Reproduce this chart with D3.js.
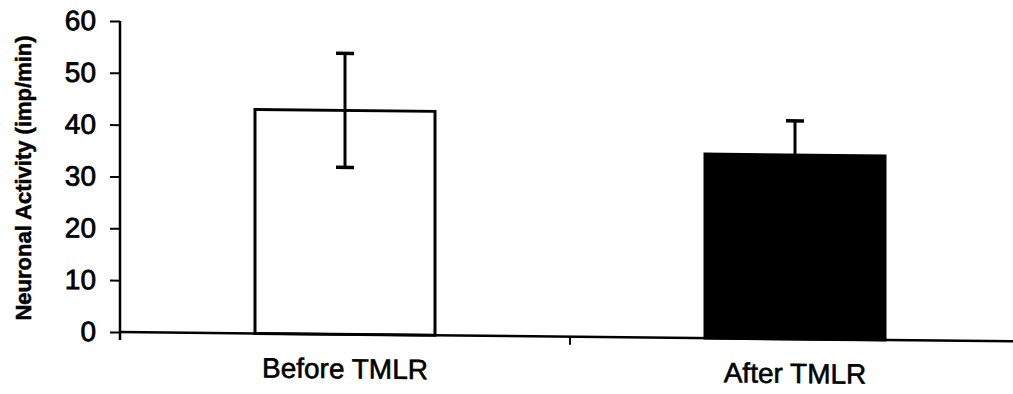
<!DOCTYPE html>
<html>
<head>
<meta charset="utf-8">
<script src="https://cdn.jsdelivr.net/npm/d3@7"></script>
<style>
  body { margin: 0; background: #fff; }
  text { font-family: "Liberation Sans", Arial, Helvetica, sans-serif; fill: #000; }
</style>
</head>
<body>
<script>
// Neuronal activity before and after TMLR (mean ± error)
const categories = ["Before TMLR", "After TMLR"];
const means = [43.2, 35.5];
const errors = [11.0, 6.6];
const fills = ["#fff", "#000"];
const yTicks = [0, 10, 20, 30, 40, 50, 60];
const yTitle = "Neuronal Activity (imp/min)";

const W = 1013, H = 394;
const svg = d3.select("body").append("svg").attr("width", W).attr("height", H);
svg.append("rect").attr("width", W).attr("height", H).attr("fill", "#fff");

const x0 = 120, yBase = 332, yTop = 21;
const x = d3.scaleBand().domain(categories).range([x0, 1020]).paddingInner(0.6).paddingOuter(0.3);
const y = d3.scaleLinear().domain([0, 60]).range([yBase, yTop]);

// slight page skew
const g = svg.append("g")
  .attr("transform", `translate(${x0},${yBase}) skewY(0.6) translate(${-x0},${-yBase})`);

// bars
g.selectAll("rect.bar").data(categories).join("rect")
  .attr("class", "bar")
  .attr("x", d => x(d))
  .attr("y", (d, i) => y(means[i]))
  .attr("width", x.bandwidth())
  .attr("height", (d, i) => y(0) - y(means[i]))
  .attr("fill", (d, i) => fills[i])
  .attr("stroke", "#000")
  .attr("stroke-width", 3);

// error bars
const cap = 9;
const eb = g.selectAll("g.err").data(categories).join("g").attr("class", "err")
  .attr("transform", d => `translate(${x(d) + x.bandwidth() / 2},0)`);
eb.append("line")
  .attr("y1", (d, i) => y(means[i] - errors[i]))
  .attr("y2", (d, i) => y(means[i] + errors[i]))
  .attr("stroke", "#000").attr("stroke-width", 3);
eb.append("line")
  .attr("x1", -cap).attr("x2", cap)
  .attr("y1", (d, i) => y(means[i] + errors[i]))
  .attr("y2", (d, i) => y(means[i] + errors[i]))
  .attr("stroke", "#000").attr("stroke-width", 3.5);
eb.append("line")
  .attr("x1", -cap).attr("x2", cap)
  .attr("y1", (d, i) => y(means[i] - errors[i]))
  .attr("y2", (d, i) => y(means[i] - errors[i]))
  .attr("stroke", "#000").attr("stroke-width", 3.5);

// y axis
const yAxis = g.append("g").attr("transform", `translate(${x0},0)`)
  .call(d3.axisLeft(y).tickValues(yTicks).tickSize(10).tickPadding(14).tickSizeOuter(0));
yAxis.select(".domain").attr("stroke", "#000").attr("stroke-width", 2.5)
  .attr("d", `M0,${yTop}V${yBase + 8}`);
yAxis.selectAll(".tick line").attr("stroke", "#000").attr("stroke-width", 2);
yAxis.selectAll(".tick text")
  .style("font-size", "28px")
  .attr("stroke", "#000").attr("stroke-width", 0.8);

// x axis with ticks at category boundaries
const xAxis = g.append("g").attr("transform", `translate(0,${yBase})`);
xAxis.append("line")
  .attr("x1", x0).attr("x2", x.range()[1])
  .attr("stroke", "#000").attr("stroke-width", 2.5);
const bounds = [x(categories[0]) + x.bandwidth() + (x.step() - x.bandwidth()) / 2];
xAxis.selectAll("line.tk").data(bounds).join("line").attr("class", "tk")
  .attr("x1", d => d).attr("x2", d => d)
  .attr("y1", 0).attr("y2", 8)
  .attr("stroke", "#000").attr("stroke-width", 2);
xAxis.selectAll("text").data(categories).join("text")
  .attr("x", d => x(d) + x.bandwidth() / 2)
  .attr("y", 44)
  .attr("text-anchor", "middle")
  .style("font-size", "28px")
  .attr("stroke", "#000").attr("stroke-width", 0.6)
  .text(d => d);

// y axis title
svg.append("text")
  .attr("transform", `translate(31,178) rotate(-90)`)
  .attr("text-anchor", "middle")
  .style("font-size", "22px")
  .style("font-weight", "bold")
  .attr("stroke", "#000").attr("stroke-width", 0.5)
  .text(yTitle);
</script>
</body>
</html>
